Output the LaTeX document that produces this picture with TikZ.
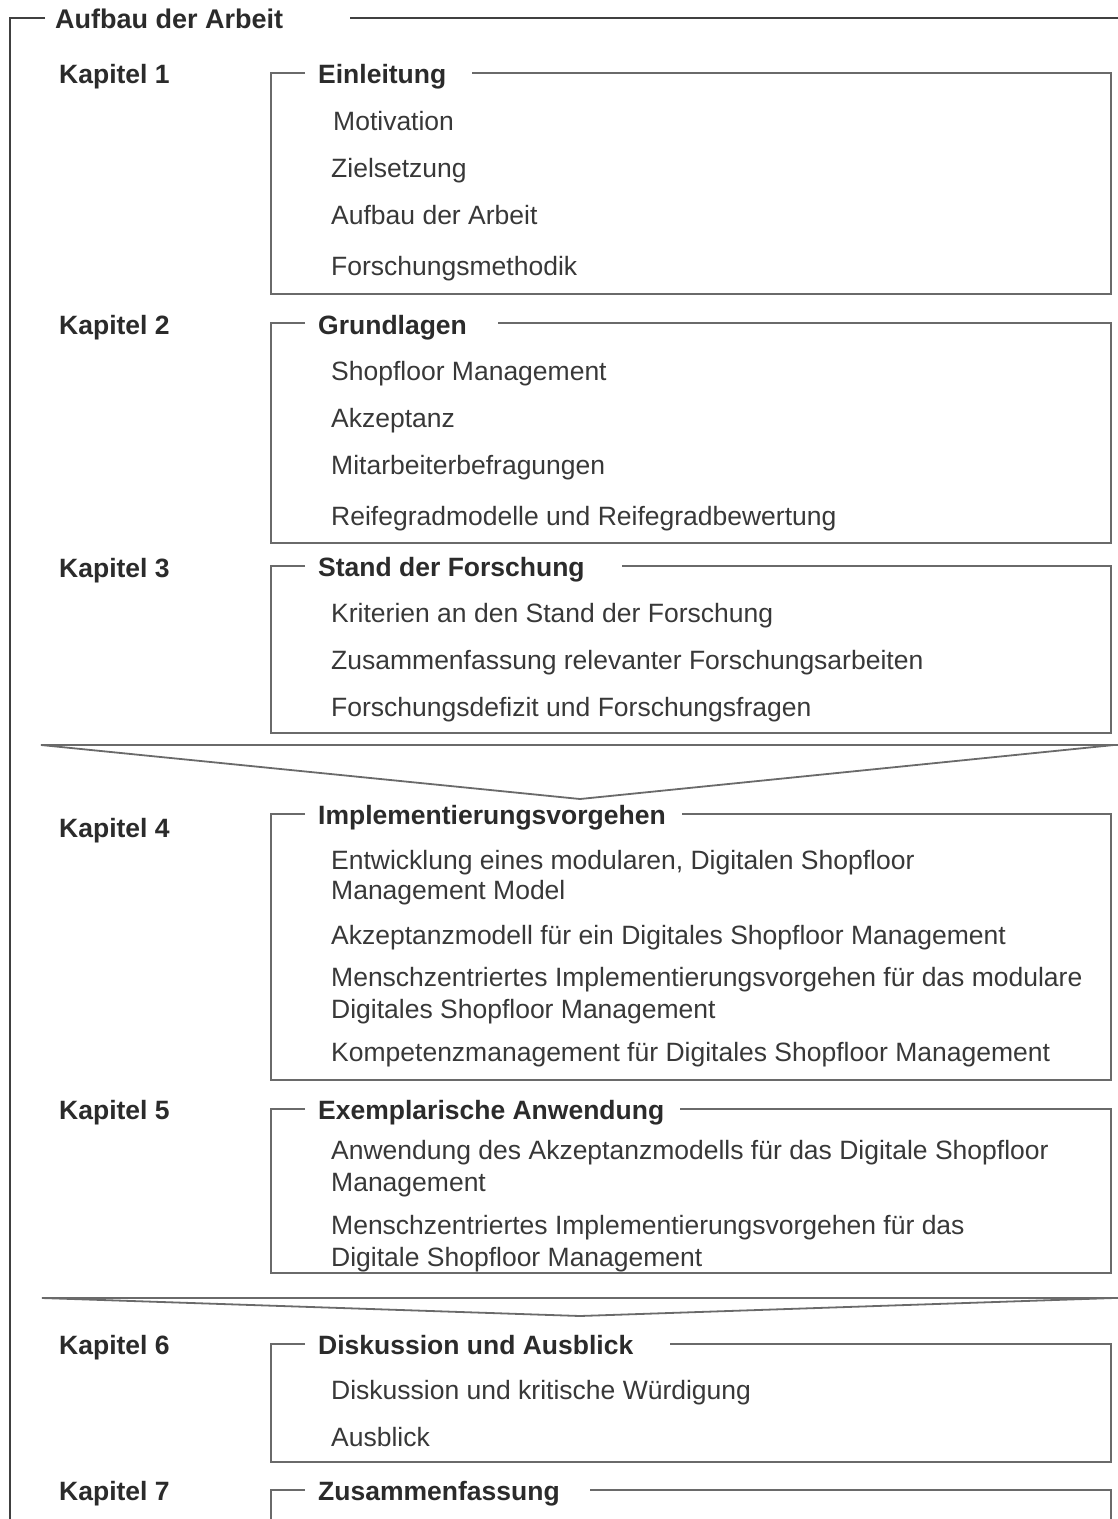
\documentclass[tikz,border=0pt]{standalone}
\usepackage{fontspec}
\setmainfont{Liberation Sans}
\definecolor{txt}{HTML}{2B2B2B}
\definecolor{itemtxt}{HTML}{383838}
\definecolor{boxline}{HTML}{6A6A6A}
\definecolor{frameline}{HTML}{404040}
\begin{document}
\begin{tikzpicture}[x=1pt,y=-1pt,
  head/.style={anchor=base west,inner sep=0pt,text=txt,font=\fontsize{26.5}{31}\selectfont\bfseries},
  item/.style={anchor=base west,inner sep=0pt,text=itemtxt,align=left,font=\fontsize{26.5}{31}\selectfont},
  boxedge/.style={draw=boxline,line width=2.6pt},
  outer/.style={draw=frameline,line width=2.2pt},
  chevron/.style={draw=boxline,line width=1.8pt,fill=white,line join=miter}]
\useasboundingbox (0,0) rectangle (1118,1519);
\clip (0,0) rectangle (1118,1519);

% outer frame with its title
\node[head,font=\fontsize{27}{31}\selectfont\bfseries] (title) at (55,28) {Aufbau der Arbeit};
\draw[outer] (45,18) -- (10,18) -- (10,1530);
\draw[outer] (350,18) -- (1125,18);

% chapter box: top y, bottom y, gap end of the title line
\newcommand\kapbox[3]{%
  \draw[boxedge] (305,#1) -- (271,#1) -- (271,#2) -- (1111,#2) -- (1111,#1) -- (#3,#1);}

% Kapitel 1
\node[head] (k1) at (59,83) {Kapitel 1};
\node[head] (t1) at (318,83) {Einleitung};
\kapbox{73}{294}{472}
\node[item] (i11) at (333,130) {Motivation};
\node[item] (i12) at (331,177) {Zielsetzung};
\node[item] (i13) at (331,224) {Aufbau der Arbeit};
\node[item] (i14) at (331,275) {Forschungsmethodik};

% Kapitel 2
\node[head] (k2) at (59,334) {Kapitel 2};
\node[head] (t2) at (318,334) {Grundlagen};
\kapbox{323}{543}{498}
\node[item] (i21) at (331,380) {Shopfloor Management};
\node[item] (i22) at (331,427) {Akzeptanz};
\node[item] (i23) at (331,474) {Mitarbeiterbefragungen};
\node[item] (i24) at (331,525) {Reifegradmodelle und Reifegradbewertung};

% Kapitel 3
\node[head] (k3) at (59,577) {Kapitel 3};
\node[head] (t3) at (318,576) {Stand der Forschung};
\kapbox{566}{733}{622}
\node[item] (i31) at (331,622) {Kriterien an den Stand der Forschung};
\node[item] (i32) at (331,669) {Zusammenfassung relevanter Forschungsarbeiten};
\node[item] (i33) at (331,716) {Forschungsdefizit und Forschungsfragen};

% first transition
\draw[chevron] (41,745) -- (1125,745) -- (1114,745) -- (580,799) -- cycle;

% Kapitel 4
\node[head] (k4) at (59,837) {Kapitel 4};
\node[head] (t4) at (318,824) {Implementierungsvorgehen};
\kapbox{814}{1080}{682}
\node[item] (i41) at (331,869) {Entwicklung eines modularen, Digitalen Shopfloor};
\node[item] (i41b) at (331,899) {Management Model};
\node[item] (i42) at (331,944) {Akzeptanzmodell für ein Digitales Shopfloor Management};
\node[item] (i43) at (331,986) {Menschzentriertes Implementierungsvorgehen für das modulare};
\node[item] (i43b) at (331,1018) {Digitales Shopfloor Management};
\node[item] (i44) at (331,1061) {Kompetenzmanagement für Digitales Shopfloor Management};

% Kapitel 5
\node[head] (k5) at (59,1119) {Kapitel 5};
\node[head] (t5) at (318,1119) {Exemplarische Anwendung};
\kapbox{1109}{1273}{680}
\node[item] (i51) at (331,1159) {Anwendung des Akzeptanzmodells für das Digitale Shopfloor};
\node[item] (i51b) at (331,1191) {Management};
\node[item] (i52) at (331,1234) {Menschzentriertes Implementierungsvorgehen für das};
\node[item] (i52b) at (331,1266) {Digitale Shopfloor Management};

% second transition
\draw[chevron] (42,1298) -- (1125,1298) -- (1114,1298) -- (580,1316) -- cycle;

% Kapitel 6
\node[head] (k6) at (59,1354) {Kapitel 6};
\node[head] (t6) at (318,1354) {Diskussion und Ausblick};
\kapbox{1344}{1462}{670}
\node[item] (i61) at (331,1399) {Diskussion und kritische Würdigung};
\node[item] (i62) at (331,1446) {Ausblick};

% Kapitel 7
\node[head] (k7) at (59,1500) {Kapitel 7};
\node[head] (t7) at (318,1500) {Zusammenfassung};
\draw[boxedge] (305,1490) -- (271,1490) -- (271,1530);
\draw[boxedge] (590,1490) -- (1111,1490) -- (1111,1530);
\end{tikzpicture}
\end{document}
